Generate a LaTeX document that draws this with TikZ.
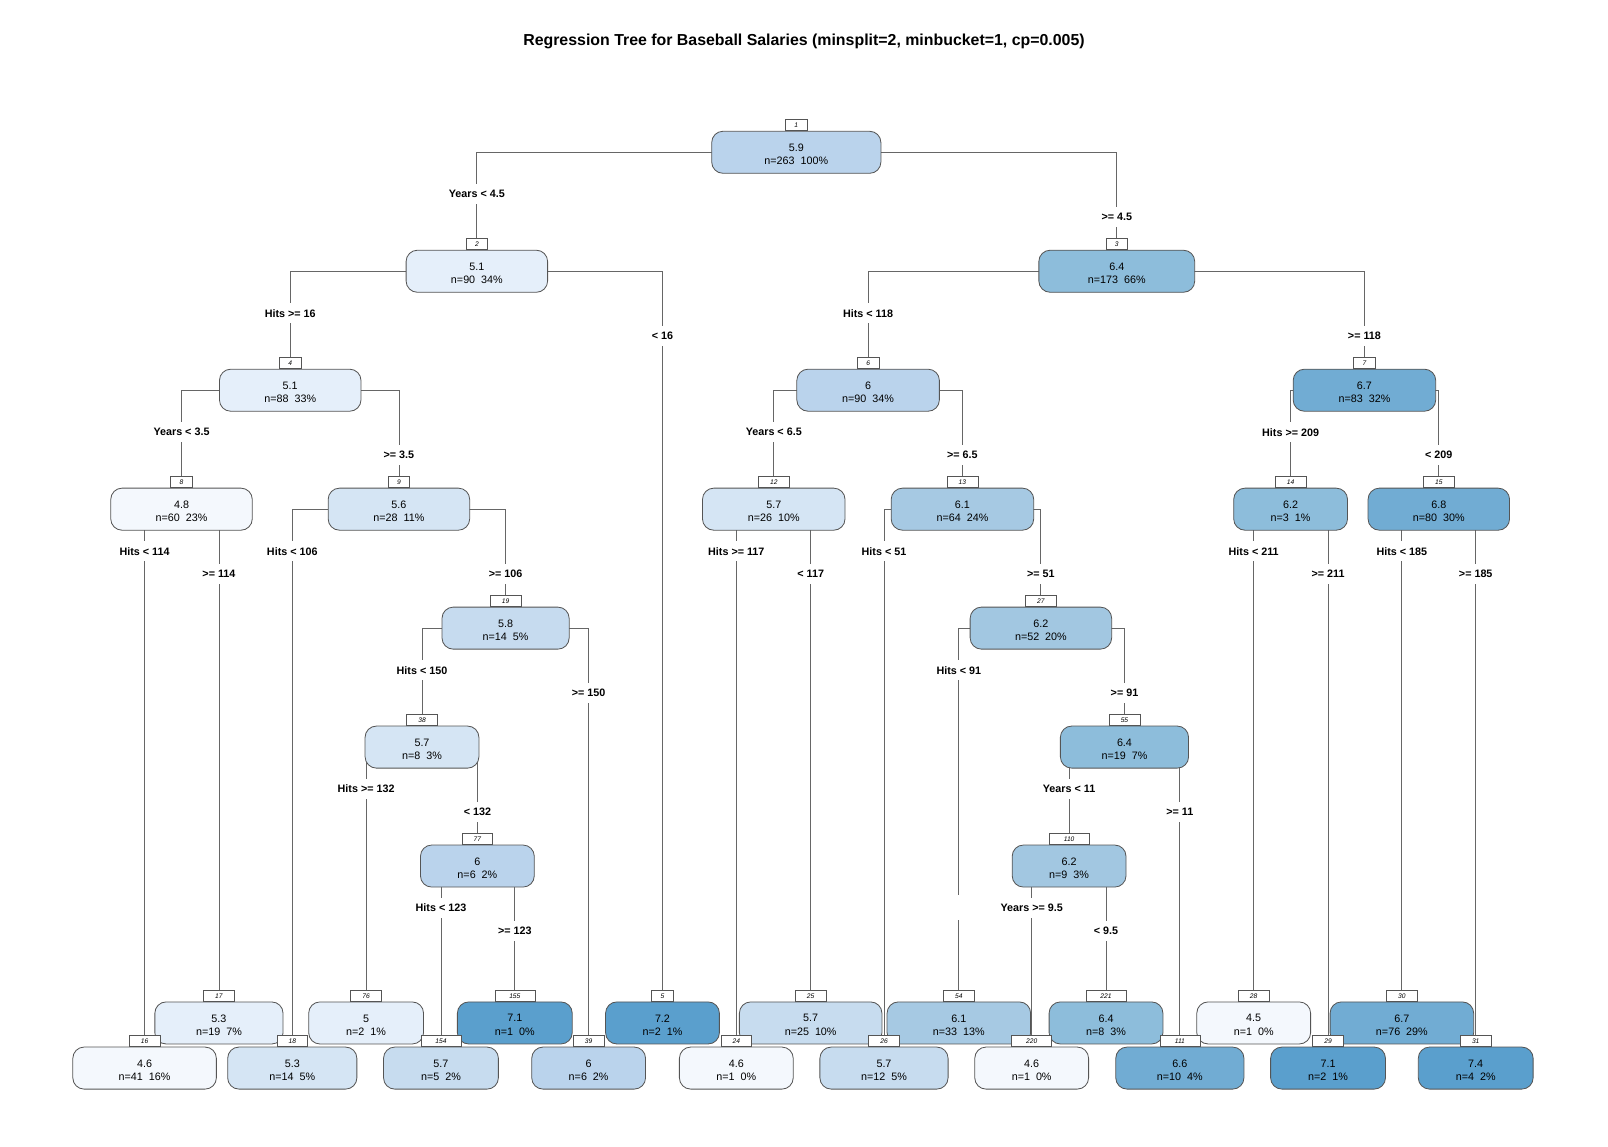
\documentclass[tikz,border=0pt]{standalone}
\usepackage{fontspec}
\setmainfont{Liberation Sans}
\usetikzlibrary{backgrounds}
\definecolor{c45}{HTML}{F4F8FD}
\definecolor{c50}{HTML}{E5EFFA}
\definecolor{c56}{HTML}{D5E5F4}
\definecolor{c57}{HTML}{C7DCEF}
\definecolor{c58}{HTML}{C6DBEF}
\definecolor{c60}{HTML}{BAD3EC}
\definecolor{c61}{HTML}{A6C9E3}
\definecolor{c62}{HTML}{A2C7E1}
\definecolor{c64}{HTML}{8DBDDB}
\definecolor{c67}{HTML}{71ACD3}
\definecolor{c71}{HTML}{5A9FCD}
\definecolor{bord}{HTML}{555555}
\definecolor{edgec}{HTML}{666666}
\tikzset{
  tbox/.style={draw=bord, line width=0.8pt, rounded corners=11pt, minimum height=41pt, inner sep=0pt},
  ttext/.style={align=center, font=\fontsize{10.5}{13}\selectfont, inner sep=0pt},
  idbox/.style={draw=bord, line width=0.6pt, fill=white, minimum height=10.5pt,
    inner sep=0pt, font=\fontsize{6.5}{6.5}\selectfont\itshape, anchor=south},
  slab/.style={fill=white, inner xsep=2pt, inner ysep=6pt, font=\fontsize{10.5}{12}\selectfont\bfseries},
  edgeline/.style={draw=edgec, line width=0.8pt}
}
\newcommand\tnode[8]{%
  \node[tbox, minimum width=#4pt, fill=#5] (n#1) at (#2,#3) {};
  \node[ttext] (t#1) at ([yshift=-2pt]n#1.center) {#6\\#7};
  \node[idbox, minimum width=#8pt] (l#1) at (n#1.north) {#1};}
\newcommand\tedge[2]{\draw[edgeline] (n#1.center) -| (l#2.north);}
\begin{document}
\begin{tikzpicture}[x=1pt,y=-1pt]
\useasboundingbox (0,0) rectangle (1568,1118);
\node[font=\fontsize{15.5}{18}\selectfont\bfseries] (title) at (784,40.5)
  {Regression Tree for Baseball Salaries (minsplit=2, minbucket=1, cp=0.005)};
% internal nodes
\tnode{1}{776.5}{148.5}{165}{c60}{5.9}{n=263\ \ 100\%}{21}
\tnode{2}{465}{264.5}{138}{c50}{5.1}{n=90\ \ 34\%}{21}
\tnode{3}{1089}{264.5}{152}{c64}{6.4}{n=173\ \ 66\%}{21}
\tnode{4}{283}{380.5}{138}{c50}{5.1}{n=88\ \ 33\%}{21}
\tnode{6}{846.5}{380.5}{139}{c60}{6}{n=90\ \ 34\%}{21}
\tnode{7}{1330.5}{380.5}{139}{c67}{6.7}{n=83\ \ 32\%}{21}
\tnode{8}{177}{496.5}{138}{c45}{4.8}{n=60\ \ 23\%}{21}
\tnode{9}{389}{496.5}{138}{c56}{5.6}{n=28\ \ 11\%}{21}
\tnode{12}{754.5}{496.5}{139}{c56}{5.7}{n=26\ \ 10\%}{30}
\tnode{13}{938.5}{496.5}{139}{c61}{6.1}{n=64\ \ 24\%}{30}
\tnode{14}{1258.5}{496.5}{111}{c64}{6.2}{n=3\ \ 1\%}{30}
\tnode{15}{1403}{496.5}{138}{c67}{6.8}{n=80\ \ 30\%}{30}
\tnode{19}{493}{612.5}{124}{c58}{5.8}{n=14\ \ 5\%}{30}
\tnode{27}{1015}{612.5}{138}{c62}{6.2}{n=52\ \ 20\%}{30}
\tnode{38}{411.5}{728.5}{111}{c56}{5.7}{n=8\ \ 3\%}{30}
\tnode{55}{1096.5}{728.5}{125}{c64}{6.4}{n=19\ \ 7\%}{30}
\tnode{77}{465.5}{844.5}{111}{c60}{6}{n=6\ \ 2\%}{30}
\tnode{110}{1042.5}{844.5}{111}{c62}{6.2}{n=9\ \ 3\%}{39}
% upper leaves
\tnode{17}{213.5}{997.5}{125}{c50}{5.3}{n=19\ \ 7\%}{30}
\tnode{76}{357}{997.5}{112}{c50}{5}{n=2\ \ 1\%}{30}
\tnode{155}{502}{997.5}{112}{c71}{7.1}{n=1\ \ 0\%}{39}
\tnode{5}{646}{997.5}{111}{c71}{7.2}{n=2\ \ 1\%}{21}
\tnode{25}{790.5}{997.5}{139}{c57}{5.7}{n=25\ \ 10\%}{30}
\tnode{54}{935}{997.5}{140}{c61}{6.1}{n=33\ \ 13\%}{30}
\tnode{221}{1078.5}{997.5}{111}{c64}{6.4}{n=8\ \ 3\%}{39}
\tnode{28}{1222.5}{997.5}{111}{c45}{4.5}{n=1\ \ 0\%}{30}
\tnode{30}{1367}{997.5}{140}{c67}{6.7}{n=76\ \ 29\%}{30}
% lower leaves
\tnode{16}{141}{1041.5}{140}{c45}{4.6}{n=41\ \ 16\%}{30}
\tnode{18}{285}{1041.5}{126}{c56}{5.3}{n=14\ \ 5\%}{30}
\tnode{154}{430}{1041.5}{112}{c57}{5.7}{n=5\ \ 2\%}{39}
\tnode{39}{574}{1041.5}{111}{c60}{6}{n=6\ \ 2\%}{30}
\tnode{24}{718}{1041.5}{111}{c45}{4.6}{n=1\ \ 0\%}{30}
\tnode{26}{862}{1041.5}{125}{c57}{5.7}{n=12\ \ 5\%}{30}
\tnode{220}{1006}{1041.5}{111}{c45}{4.6}{n=1\ \ 0\%}{39}
\tnode{111}{1150.5}{1041.5}{125}{c67}{6.6}{n=10\ \ 4\%}{39}
\tnode{29}{1295}{1041.5}{112}{c71}{7.1}{n=2\ \ 1\%}{30}
\tnode{31}{1439}{1041.5}{112}{c71}{7.4}{n=4\ \ 2\%}{30}
% edges
\begin{pgfonlayer}{background}
\tedge{1}{2}\tedge{1}{3}
\tedge{2}{4}\tedge{2}{5}
\tedge{3}{6}\tedge{3}{7}
\tedge{4}{8}\tedge{4}{9}
\tedge{6}{12}\tedge{6}{13}
\tedge{7}{14}\tedge{7}{15}
\tedge{8}{16}\tedge{8}{17}
\tedge{9}{18}\tedge{9}{19}
\tedge{12}{24}\tedge{12}{25}
\tedge{13}{26}\tedge{13}{27}
\tedge{14}{28}\tedge{14}{29}
\tedge{15}{30}\tedge{15}{31}
\tedge{19}{38}\tedge{19}{39}
\tedge{27}{54}\tedge{27}{55}
\tedge{38}{76}\tedge{38}{77}
\tedge{55}{110}\tedge{55}{111}
\tedge{77}{154}\tedge{77}{155}
\tedge{110}{220}\tedge{110}{221}
\end{pgfonlayer}
\fill[white] (929,873) rectangle (939,897);
% split labels
\node[slab] (s2) at (465,189.5) {Years < 4.5};
\node[slab] (s3) at (1089,211.5) {>= 4.5};
\node[slab] (s4) at (283,305.5) {Hits >= 16};
\node[slab] (s5) at (646,327.5) {< 16};
\node[slab] (s6) at (846.5,305.5) {Hits < 118};
\node[slab] (s7) at (1330.5,327.5) {>= 118};
\node[slab] (s8) at (177,421.5) {Years < 3.5};
\node[slab] (s9) at (389,443.5) {>= 3.5};
\node[slab] (s12) at (754.5,421.5) {Years < 6.5};
\node[slab] (s13) at (938.5,443.5) {>= 6.5};
\node[slab] (s14) at (1258.5,421.5) {Hits >= 209};
\node[slab] (s15) at (1403,443.5) {< 209};
\node[slab] (s16) at (141,537.5) {Hits < 114};
\node[slab] (s17) at (213.5,559.5) {>= 114};
\node[slab] (s18) at (285,537.5) {Hits < 106};
\node[slab] (s19) at (493,559.5) {>= 106};
\node[slab] (s24) at (718,537.5) {Hits >= 117};
\node[slab] (s25) at (790.5,559.5) {< 117};
\node[slab] (s26) at (862,537.5) {Hits < 51};
\node[slab] (s27) at (1015,559.5) {>= 51};
\node[slab] (s28) at (1222.5,537.5) {Hits < 211};
\node[slab] (s29) at (1295,559.5) {>= 211};
\node[slab] (s30) at (1367,537.5) {Hits < 185};
\node[slab] (s31) at (1439,559.5) {>= 185};
\node[slab] (s38) at (411.5,653.5) {Hits < 150};
\node[slab] (s39) at (574,675.5) {>= 150};
\node[slab] (s54) at (935,653.5) {Hits < 91};
\node[slab] (s55) at (1096.5,675.5) {>= 91};
\node[slab] (s76) at (357,769.5) {Hits >= 132};
\node[slab] (s77) at (465.5,791.5) {< 132};
\node[slab] (s110) at (1042.5,769.5) {Years < 11};
\node[slab] (s111) at (1150.5,791.5) {>= 11};
\node[slab] (s154) at (430,885.5) {Hits < 123};
\node[slab] (s155) at (502,907.5) {>= 123};
\node[slab] (s220) at (1006,885.5) {Years >= 9.5};
\node[slab] (s221) at (1078.5,907.5) {< 9.5};
\end{tikzpicture}
\end{document}
